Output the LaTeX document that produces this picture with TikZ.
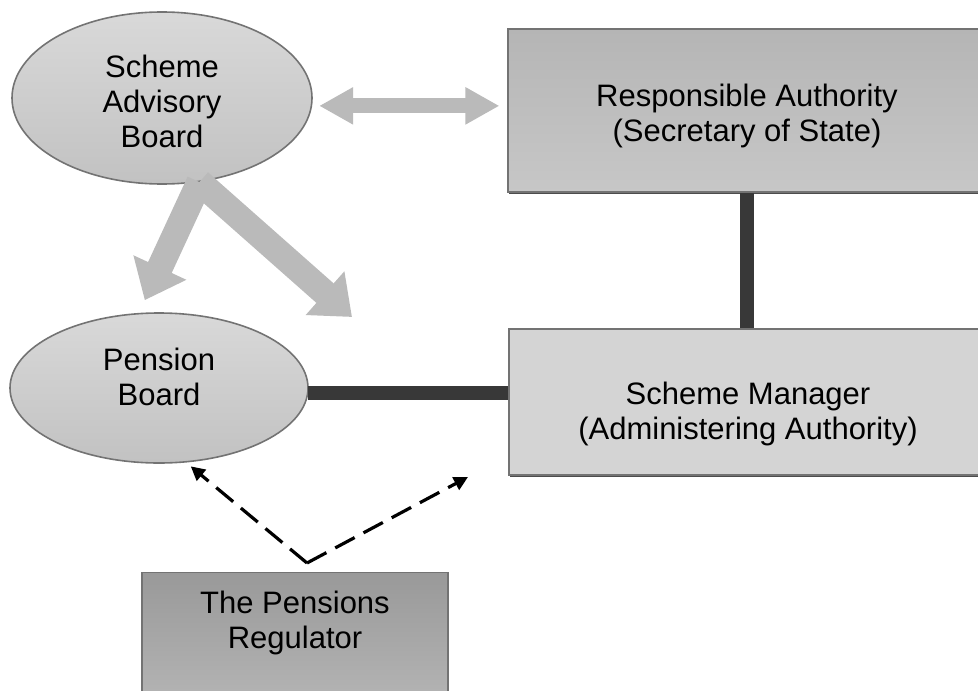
\documentclass[tikz,border=0pt]{standalone}
\usepackage{fontspec}
\setmainfont{Liberation Sans}
\usetikzlibrary{shapes.geometric, arrows.meta, shadows}

\tikzset{
  board/.style={ellipse, draw=black!55, line width=0.8pt, top color=black!15, bottom color=black!24, inner sep=0pt, align=center},
  body/.style={rectangle, draw=black!55, line width=0.6pt, inner sep=0pt, align=center,
    drop shadow={shadow xshift=0.3pt, shadow yshift=-1.2pt, fill=black!70, opacity=1}},
  link/.style={line width=7pt, draw=black!78},
  fat/.style={line width=13pt, draw=black!27, -{Triangle[length=18pt, width=28pt]}},
  talk/.style={line width=7.5pt, draw=black!27, {Triangle[length=17pt, width=17.5pt]}-{Triangle[length=17pt, width=17.5pt]}},
  watch/.style={line width=1.6pt, dash pattern=on 11pt off 5pt, -{Triangle[length=7pt, width=7pt]}},
}

\begin{document}
\begin{tikzpicture}[x=0.5pt, y=-0.5pt, font=\fontsize{15.5}{17.5}\selectfont]
  \clip (0,0) rectangle (978,690);

  \node[board, minimum width=150pt, minimum height=86pt] (sab) at (162,98) {\rule{0pt}{15pt}Scheme\\Advisory\\Board};
  \node[board, minimum width=149pt, minimum height=75pt] (pb) at (159,388) {Pension\\Board\rule[-11pt]{0pt}{11pt}};
  \node[body, top color=black!29, bottom color=black!22, minimum width=239pt, minimum height=81.5pt] (ra) at (747,110.5) {\rule{0pt}{17pt}Responsible Authority\\(Secretary of State)};
  \node[body, fill=black!17, minimum width=239pt, minimum height=73pt] (sm) at (748,402) {\rule{0pt}{23pt}Scheme Manager\\(Administering Authority)};
  \node[body, top color=black!40, bottom color=black!24, anchor=north, minimum width=153pt, inner ysep=9pt, text depth=50pt] (tpr) at (295,572) {The Pensions\\Regulator};

  \coordinate (sabend) at (352,317);
  \coordinate (regtop) at (307,563);
  \coordinate (smcorner) at (468,477);

  % solid lines
  \draw[link] (ra.south) -- (ra.south |- sm.north);
  \draw[link] (pb.-2.5) -- (pb.-2.5 -| sm.west);

  % advice
  \draw[talk, shorten <=3.5pt, shorten >=4pt] (sab.-3) -- (sab.-3 -| ra.west);
  \draw[fat, shorten >=7pt] (sab.-66) -- (pb.105);
  \draw[fat] (sab.-66) -- (sabend);

  % regulator
  \draw[watch, shorten >=3pt] (regtop) -- (pb.-70);
  \draw[watch] (regtop) -- (smcorner);
\end{tikzpicture}
\end{document}
